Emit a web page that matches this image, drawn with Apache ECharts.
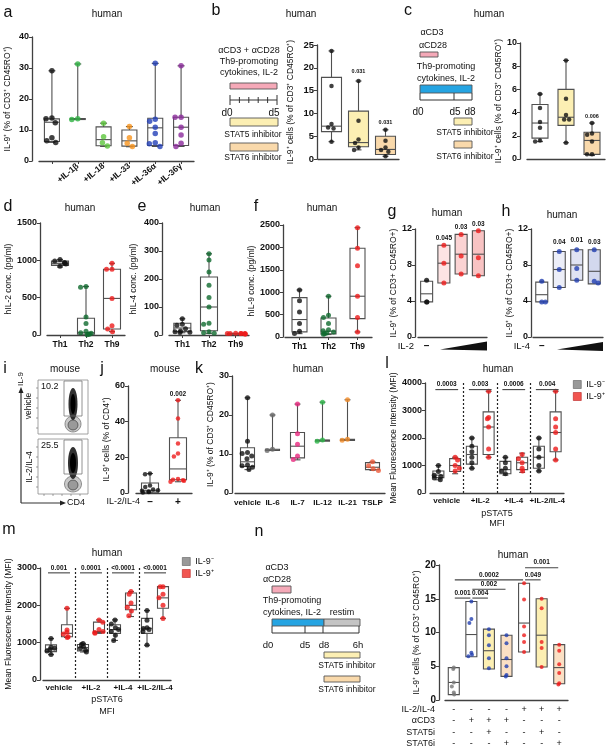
<!DOCTYPE html>
<html><head><meta charset="utf-8"><title>Figure</title>
<script src="https://cdn.jsdelivr.net/npm/echarts@6.0.0/dist/echarts.min.js"></script>
<style>html,body{margin:0;padding:0;background:#fff;}#chart{width:609px;height:750px;}</style>
</head><body><div id="chart"></div>
<script>
// ================= DATA =================
// Panel a
const aCats = ['', '+IL-1β', '+IL-18', '+IL-33', '+IL-36α', '+IL-36γ'];
const aBox = [[6.0,6.3,12.5,13.6,29.1],[13.4,13.4,13.6,13.7,31.3],[4.7,4.9,6.9,11.0,12.2],[4.6,4.8,6.5,10.0,11.1],[4.7,5.0,10.7,13.8,31.5],[4.7,5.0,10.9,14.1,30.7]];
const aPts = [[29.1,13.9,13.6,12.3,7.5,6.5,6.0],[31.3,13.6,13.4],[12.2,7.8,5.9,4.8],[11.1,7.5,5.7,4.7],[31.5,13.5,12.8,10.9,8.9,5.9,5.6,4.7],[30.7,14.1,14.1,10.9,8.4,5.7,4.7]];
// Panel b
const bCats = ['vehicle','STAT5i','STAT6i'];
const bBox = [[3.8,6.0,7.2,17.9,23.7],[2.0,2.7,3.6,10.5,17.1],[0.6,1.0,2.1,5.0,6.4]];
const bPts = [[23.7,16.0,7.7,6.9,6.7,3.8],[17.1,8.4,4.3,3.5,2.5,2.0],[6.4,4.0,2.5,2.0,1.6,0.6]];
const bPvals = [[1,1,19.1,'0.031'],[2,2,8.1,'0.031']];
// Panel c
const cCats = ['vehicle','STAT5i','STAT6i'];
const cBox = [[1.5,1.8,3.1,4.7,5.6],[1.4,2.9,3.6,6.0,8.5],[0.3,0.4,1.6,2.3,3.1]];
const cPts = [[5.6,4.4,3.2,2.7,1.6,1.5],[8.5,5.2,3.8,3.4,3.4,1.4],[3.1,2.2,2.1,1.5,0.4,0.4]];
const cPvals = [[2,2,3.65,'0.006']];
// Panels d, e, f
const thCats = ['Th1','Th2','Th9'];
const dBox = [[910,930,955,990,1010],[5,10,30,225,650],[45,80,490,880,960]];
const dPts = [[1010,990,970,960,950,920],[650,640,240,155,50,30,25,15,10,5],[960,880,880,490,125,80,45]];
const eBox = [[8,12,25,42,58],[6,15,100,207,290],[3,4,5,6,7]];
const ePts = [[58,38,35,22,14,12,10,9],[290,268,225,178,134,100,42,38,12,8,6],[6,5,5,5,4,4,5,5]];
const fBox = [[75,115,390,880,1050],[55,70,130,425,910],[112,410,910,1980,2440]];
const fPts = [[1050,810,560,300,130,80],[910,485,435,300,160,140,110,90,75,60],[2440,1980,1590,910,435,112]];
// Panels g, h
const gCats = ['none','IL-2 low','IL-2 mid','IL-2 high'];
const hCats = ['none','IL-4 low','IL-4 mid','IL-4 high'];
const doseLabels = ['–','','',''];
const gBox = [[3.9,3.9,4.8,6.2,6.3],[6.0,6.0,8.2,10.2,10.2],[7.0,7.0,9.2,11.4,11.4],[6.8,6.8,9.2,11.8,11.8]];
const gPts = [[6.3,3.9,3.9],[10.2,8.2,6.0],[11.4,9.0,7.0],[11.8,8.8,6.8]];
const gPvals = [[1,1,11.0,'0.045'],[2,2,12.25,'0.03'],[3,3,12.55,'0.03']];
const hBox = [[3.9,3.9,4.7,6.1,6.2],[5.5,5.5,7.5,9.5,9.5],[6.3,6.3,8.0,9.7,9.7],[5.9,5.9,7.3,9.7,9.7]];
const hPts = [[6.2,3.9,3.9],[9.5,7.5,5.5],[9.7,7.6,6.3],[9.7,6.2,6.0]];
const hPvals = [[1,1,10.5,'0.04'],[2,2,10.8,'0.01'],[3,3,10.5,'0.03']];
// Panel j
const jCats = ['–','+'];
const jBox = [[0.2,0.5,1.5,5.6,10.9],[6.3,7.4,13.5,31,52]];
const jPts = [[10.9,10.5,4.2,3.3,2.0,1.5,1.2,0.8,0.5,0.3],[52,41.8,27.7,22.1,20.5,7.8,7.5,7.2,6.8,6.3]];
const jPvals = [[1,1,55.5,'0.002']];
// Panel k
const kCats = ['vehicle','IL-6','IL-7','IL-12','IL-21','TSLP'];
const kBox = [[6.0,6.8,8.0,11.6,24.4],[10.8,10.9,11.0,11.2,20.0],[8.5,9.0,12.0,15.5,22.8],[13.2,13.3,13.5,13.6,23.3],[13.4,13.5,13.6,13.8,23.9],[5.8,6.0,6.6,7.8,8.0]];
const kPts = [[24.4,13.3,10.4,10.1,9.5,8.8,7.2,7.0,6.6,6.0],[20.0,11.2,10.9],[22.8,15.2,12.5,9.5,8.6],[23.3,13.6,13.3],[23.9,13.8,13.5],[8.0,7.0,6.2,5.8]];
// Panel l (pSTAT5)
const lGroups = ['vehicle','+IL-2','+IL-4','+IL-2/IL-4'];
const lNegBox = [[480,560,650,800,1000],[900,1050,1400,1700,2000],[650,700,850,1150,1300],[800,900,1300,1700,2000]];
const lPosBox = [[700,780,1000,1250,1300],[1300,1400,2400,2950,3700],[750,850,1100,1300,1450],[1200,1500,2200,2950,3700]];
const lNegPts = [[1000,780,650,600,550,480],[2000,1700,1500,1300,1100,900],[1300,1100,900,800,700],[2000,1600,1300,1000,800]];
const lPosPts = [[1300,1200,1000,900,800],[3700,2750,2700,2400,1600,1300],[1400,1250,1100,900,800],[3700,2700,2400,2200,1600,1200]];
const lPvals = ['0.0003','0.003','0.0006','0.004'];
// Panel m (pSTAT6)
const mGroups = ['vehicle','+IL-2','+IL-4','+IL-2/IL-4'];
const mNegBox = [[680,760,830,940,1110],[750,780,870,950,980],[1060,1250,1350,1480,1610],[930,1250,1385,1650,1860]];
const mPosBox = [[1140,1160,1250,1480,1920],[1250,1270,1300,1550,1610],[1700,1880,2000,2330,2370],[1650,1920,2200,2500,2500]];
const mNegPts = [[1110,880,850,820,780,680],[980,950,900,850,800,750],[1610,1500,1400,1350,1300,1200,1060],[1860,1600,1400,1380,1350,1300,940]];
const mPosPts = [[1920,1340,1280,1230,1160,1140],[1610,1550,1350,1300,1270,1250],[2370,2300,2060,1950,1850,1720],[2500,2500,2300,2200,2000,1650]];
const mPvals = ['0.001','0.0001','<0.0001','<0.0001'];
// Panel n
const nRowNames = ['IL-2/IL-4','αCD3','STAT5i','STAT6i'];
const nRows = [['-','-','-','-','+','+','+'],['-','+','+','+','-','-','-'],['-','-','+','-','-','+','-'],['-','-','-','+','-','-','+']];
const nCats = nRows[0].map((_,i)=>nRows.map(r=>r[i]).join('\n'));
const nBox = [[0.8,0.8,2.6,4.8,4.8],[6.4,6.4,9.7,14.6,14.6],[4.6,4.6,7.3,10.5,10.5],[3.5,3.5,6.0,9.6,9.6],[7.1,7.1,11.4,17.3,17.3],[4.9,4.9,9.6,15.0,15.0],[2.4,2.4,4.8,8.2,8.2]];
const nPts = [[4.8,4.6,2.6,2.0,1.1,0.8],[14.6,12.0,11.4,7.0,6.7,6.5],[10.5,9.6,8.1,6.2,4.7],[9.6,8.4,6.2,5.0,3.7,3.5],[17.3,14.9,10.9,9.6,8.6,7.1],[15.0,13.6,8.6,7.7,4.9],[8.2,7.3,5.3,4.0,2.5,2.3]];
const nSig = [[0,1,15.1,'0.001'],[1,2,15.1,'0.004'],[1,3,16.4,'0.002'],[0,4,17.8,'0.0002'],[4,5,17.8,'0.049'],[4,6,19.6,'0.001']];

// ================= STYLE =================
const FONT = '"Liberation Sans", Arial, Helvetica, sans-serif';
const AX = '#404040', BOXSTROKE = '#505050';
const BLACK='#111111', RED='#ee1c1c', BLUE='#2340b0', DGREEN='#0f6a2e';
const YEL='#fcefb3', PEACH='#f9d9ab', PINK='#f5a9b8', CYAN='#25a4e2';

const opt = {animation:false, backgroundColor:'#fff', textStyle:{fontFamily:FONT},
  grid:[], xAxis:[], yAxis:[], series:[], graphic:[], legend:[]};

function panel(p){
  const gi = opt.grid.length;
  opt.grid.push({left:p.l, top:p.t, width:p.w, height:p.h});
  const xi = opt.xAxis.length;
  const xa = {type:'category', gridIndex:gi, data:p.cats, position:'bottom',
    axisLine:{show:true, lineStyle:{color:AX, width:1.3}},
    axisTick:{show:!!p.xTick, alignWithLabel:true, length:3, lineStyle:{color:AX}},
    axisLabel:{show:!p.noXLabel, interval:0, fontSize:p.xfs||8.5, fontWeight:p.xfw||'bold', color:'#111',
      margin:p.xm||4, rotate:p.rot||0, lineHeight:p.xlh||11, fontFamily:FONT},
    splitLine:{show:false}, jitter:p.jit||12, jitterOverlap:false, jitterMargin:0.5};
  if(p.labels) xa.axisLabel.formatter = (v,i)=>p.labels[i];
  if(p.groups) xa.show = false;
  opt.xAxis.push(xa);
  if(p.groups){
    opt.xAxis.push({type:'category', gridIndex:gi, data:p.groups, position:'bottom',
      axisLine:{show:true, lineStyle:{color:AX,width:1.3}}, axisTick:{show:false},
      axisLabel:{interval:0, fontSize:8, fontWeight:'bold', color:'#111', margin:4, fontFamily:FONT},
      splitLine:{show:true, showMinLine:false, showMaxLine:false, lineStyle:{type:[2,2], color:'#222', width:1.2}},
      name:p.xName, nameLocation:'middle', nameGap:p.xNameGap,
      nameTextStyle:{fontSize:9, color:'#111', lineHeight:p.xNameLH||11, fontFamily:FONT}});
  }
  const yi = opt.yAxis.length;
  opt.yAxis.push({type:'value', gridIndex:gi, min:0, max:p.yMax, interval:p.yInt, offset:p.yOff||0,
    axisLine:{show:true, lineStyle:{color:AX,width:1.3}}, axisTick:{show:true,length:3,lineStyle:{color:AX}},
    splitLine:{show:false},
    axisLabel:{fontSize:p.yfs||9, fontWeight:'bold', color:'#111', margin:3, fontFamily:FONT, formatter:v=>String(v)},
    name:p.yName, nameLocation:'middle', nameGap:p.yGap,
    nameTextStyle:{fontSize:8.5, color:'#111', fontFamily:FONT}});
  return {xi, yi};
}

function boxSeries(xi, yi, list, w, cap){
  return {type:'custom', xAxisIndex:xi, yAxisIndex:yi, z:2, clip:false, silent:true,
    data:list.map(b=>[b.i].concat(b.s)),
    renderItem:(params, api)=>{
      const b = list[params.dataIndex];
      const c = api.value(0);
      const P = k=>api.coord([c, api.value(k)]);
      const pmin=P(1), pq1=P(2), pmed=P(3), pq3=P(4), pmax=P(5);
      const x = pmed[0];
      const st = {stroke:BOXSTROKE, lineWidth:1.1, fill:null};
      const ch = [{type:'line', shape:{x1:x,y1:pmin[1],x2:x,y2:pmax[1]}, style:st}];
      if(cap){
        if(pmax[1] < pq3[1]-0.5) ch.push({type:'line', shape:{x1:x-cap/2,y1:pmax[1],x2:x+cap/2,y2:pmax[1]}, style:st});
        if(pmin[1] > pq1[1]+0.5) ch.push({type:'line', shape:{x1:x-cap/2,y1:pmin[1],x2:x+cap/2,y2:pmin[1]}, style:st});
      }
      ch.push({type:'rect', shape:{x:x-w/2, y:pq3[1], width:w, height:Math.max(pq1[1]-pq3[1],1)},
        style:{fill:b.fill||'#fff', stroke:BOXSTROKE, lineWidth:1.1}});
      ch.push({type:'line', shape:{x1:x-w/2,y1:pmed[1],x2:x+w/2,y2:pmed[1]}, style:st});
      return {type:'group', children:ch};
    }};
}

function ptSeries(xi, yi, pts, size, name){
  return {type:'scatter', name:name, xAxisIndex:xi, yAxisIndex:yi, z:5, symbolSize:size, clip:false,
    data:pts.map(p=>({value:[p.i,p.v], itemStyle:{color:p.c}}))};
}

function annSeries(xi, yi, list, ext, fs){
  return {type:'custom', xAxisIndex:xi, yAxisIndex:yi, z:6, clip:false, silent:true,
    data:list.map(a=>[a[0], a[2]]),
    renderItem:(params, api)=>{
      const a = list[params.dataIndex];
      const p1 = api.coord([a[0], a[2]]), p2 = api.coord([a[1], a[2]]);
      const line = a[0]!==a[1];
      const x1 = p1[0]-(line?ext:0), x2 = p2[0]+(line?ext:0);
      const ch = [];
      if(line) ch.push({type:'line', shape:{x1:x1,y1:p1[1],x2:x2,y2:p1[1]}, style:{stroke:'#444', lineWidth:1.1}});
      ch.push({type:'text', style:{text:a[3], x:(x1+x2)/2, y:line?p1[1]-1.5:p1[1], align:'center',
        verticalAlign:line?'bottom':'middle', font:'bold '+(fs||6.5)+'px '+FONT, fill:'#111'}});
      return {type:'group', children:ch};
    }};
}

function stdPanel(p, box, pts, cols, fills, o){
  const ax = panel(p);
  opt.series.push(boxSeries(ax.xi, ax.yi, box.map((s,i)=>({i:i, s:s, fill:fills?fills[i]:'#fff'})), o.bw, o.cap));
  const P = [];
  pts.forEach((arr,i)=>arr.forEach(v=>P.push({i:i, v:v, c:Array.isArray(cols)?cols[i]:cols})));
  opt.series.push(ptSeries(ax.xi, ax.yi, P, o.ps));
  if(o.ann) opt.series.push(annSeries(ax.xi, ax.yi, o.ann, o.ext||0, o.afs));
  return ax;
}

function pairedPanel(p, negBox, posBox, negPts, posPts, pv, o){
  const ax = panel(p);
  const boxes = [];
  negBox.forEach((s,g)=>boxes.push({i:2*g, s:s, fill:'#fff'}));
  posBox.forEach((s,g)=>boxes.push({i:2*g+1, s:s, fill:'#fff'}));
  opt.series.push(boxSeries(ax.xi, ax.yi, boxes, o.bw, o.cap));
  const N=[], Q=[];
  negPts.forEach((a,g)=>a.forEach(v=>N.push({i:2*g, v:v, c:BLACK})));
  posPts.forEach((a,g)=>a.forEach(v=>Q.push({i:2*g+1, v:v, c:RED})));
  opt.series.push(ptSeries(ax.xi, ax.yi, N, o.ps, 'IL-9⁻'));
  opt.series.push(ptSeries(ax.xi, ax.yi, Q, o.ps, 'IL-9⁺'));
  opt.series.push(annSeries(ax.xi, ax.yi, pv.map((t,g)=>[2*g, 2*g+1, o.sigY, t]), o.ext, 6.5));
  return ax;
}

// ================= PANELS =================
const yPct = 'IL-9⁺ (% of CD3⁺ CD45RO⁺)';
const yCells = 'IL-9⁺ cells (% of CD3⁺ CD45RO⁺)';
const yMFI = 'Mean Fluorescence Intensity (MFI)';

stdPanel({l:39,t:37,w:155,h:124,yOff:7,cats:aCats,rot:40,xTick:true,yMax:40,yInt:10,yName:yPct,yGap:20,jit:13},
  aBox, aPts, ['#111111','#2fb344','#5cc63c','#f7941d','#2340b8','#8b2a9b'], null, {bw:15, cap:7, ps:5.5});

stdPanel({l:318,t:45,w:81,h:114,yOff:1,cats:bCats,noXLabel:true,yMax:25,yInt:5,yName:yCells,yGap:22,yfs:9.5,jit:13},
  bBox, bPts, BLACK, ['#fff',YEL,PEACH], {bw:20, cap:6, ps:4.5, ann:bPvals, afs:5.5});

stdPanel({l:527,t:43,w:78,h:116,yOff:7,cats:cCats,noXLabel:true,yMax:10,yInt:2,yName:yCells,yGap:12,jit:12},
  cBox, cPts, BLACK, ['#fff',YEL,PEACH], {bw:16, cap:6, ps:4.5, ann:cPvals, afs:5.5});

stdPanel({l:47,t:223,w:78,h:112,yOff:7,cats:thCats,xTick:true,yMax:1500,yInt:500,yName:'hIL-2 conc. (pg/ml)',yGap:27,jit:16},
  dBox, dPts, [BLACK,DGREEN,RED], ['#c4c4c4','#fff','#fff'], {bw:17, cap:6, ps:5});

stdPanel({l:169,t:223,w:80,h:112,yOff:7,cats:thCats,xTick:true,yMax:400,yInt:100,yName:'hIL-4 conc. (pg/ml)',yGap:24,jit:20},
  eBox, ePts, [BLACK,DGREEN,RED], null, {bw:17, cap:6, ps:5});

stdPanel({l:285,t:225,w:87,h:112,yOff:2,cats:thCats,xTick:true,yMax:2500,yInt:500,yName:'hIL-9 conc. (pg/ml)',yGap:25,jit:14},
  fBox, fPts, [BLACK,DGREEN,RED], null, {bw:15, cap:6, ps:5});

stdPanel({l:418,t:229,w:69,h:108,yOff:3,cats:gCats,labels:doseLabels,xfs:10,yMax:12,yInt:4,yName:'IL-9⁺ (% of CD3+ CD45RO+)',yGap:15,jit:10},
  gBox, gPts, [BLACK,RED,RED,RED], ['#fff','#fde4e4','#fbd3d3','#f8c3c3'], {bw:12, cap:5, ps:5, ann:gPvals});

stdPanel({l:533,t:229,w:70,h:108,yOff:2,cats:hCats,labels:doseLabels,xfs:10,yMax:12,yInt:4,yName:'IL-9⁺ (% of CD3+ CD45RO+)',yGap:16,jit:10},
  hBox, hPts, [BLUE,BLUE,BLUE,BLUE], ['#fff','#eceef8','#e0e3f3','#d3d8ee'], {bw:12, cap:5, ps:5, ann:hPvals});

stdPanel({l:136,t:386,w:56,h:107,yOff:8,cats:jCats,xfs:10,yMax:60,yInt:20,yName:'IL-9⁺ cells (% of CD4⁺)',yGap:13,jit:18},
  jBox, jPts, [BLACK,RED], null, {bw:17, cap:6, ps:4.5, ann:jPvals});

stdPanel({l:235,t:376,w:150,h:117,yOff:3,cats:kCats,xTick:false,xfs:8,yMax:30,yInt:10,yName:yPct,yGap:17,jit:14},
  kBox, kPts, ['#111111','#6b6b6b','#e8287e','#2eb84a','#f28c28','#ee5a3a'], null, {bw:14, cap:6, ps:5});

pairedPanel({l:430,t:383,w:134,h:110,yOff:5,cats:lGroups.flatMap(g=>[g+' IL-9⁻', g+' IL-9⁺']),groups:lGroups,
  xName:'pSTAT5\nMFI',xNameGap:15,xNameLH:10.5,yMax:4000,yInt:1000,yName:yMFI,yGap:25,jit:9},
  lNegBox, lPosBox, lNegPts, lPosPts, lPvals, {bw:11, cap:6, ps:5, sigY:3760, ext:3});

pairedPanel({l:43,t:568,w:128,h:112,yOff:3,cats:mGroups.flatMap(g=>[g+' IL-9⁻', g+' IL-9⁺']),groups:mGroups,
  xName:'pSTAT6\nMFI',xNameGap:14,xNameLH:12,yMax:3000,yInt:1000,yName:yMFI,yGap:27,jit:9},
  mNegBox, mPosBox, mNegPts, mPosPts, mPvals, {bw:11, cap:6, ps:5, sigY:2870, ext:3});

stdPanel({l:445,t:565,w:123,h:135,yOff:6,cats:nCats,xfs:9,xfw:'normal',xlh:11.3,xm:4,yMax:20,yInt:5,yName:yCells,yGap:17,yfs:10,jit:8},
  nBox, nPts, ['#777777',BLUE,BLUE,BLUE,RED,RED,RED], ['#fff','#fff',YEL,'#fbe0c4','#fff',YEL,'#fbe0c4'],
  {bw:11, cap:0, ps:4, ann:nSig, ext:-1, afs:6.5});

// legends for l and m
const legItems = [{name:'IL-9⁻', itemStyle:{color:'#7f7f7f', borderColor:'#444', borderWidth:0.6}},
                  {name:'IL-9⁺', itemStyle:{color:'#ee2b24', borderColor:'#a00', borderWidth:0.6}}];
opt.legend.push({left:568, top:375, orient:'vertical', icon:'rect', itemWidth:8, itemHeight:8, itemGap:3, selectedMode:false,
  textStyle:{fontSize:9, color:'#111', fontFamily:FONT}, data:legItems});
opt.legend.push({left:177, top:552, orient:'vertical', icon:'rect', itemWidth:8, itemHeight:8, itemGap:3, selectedMode:false,
  textStyle:{fontSize:9, color:'#111', fontFamily:FONT}, data:legItems});

// ================= GRAPHICS (labels & schematics) =================
const G = opt.graphic;
function T(x,y,s,fs,o){ o=o||{}; G.push({type:'text', x:x, y:y, rotation:o.rot||0, silent:true, z:10,
  style:{text:s, fill:o.fill||'#111', font:(o.w||'normal')+' '+fs+'px '+FONT, align:o.align||'center', verticalAlign:o.va||'middle'}}); }
function R(x,y,w,h,fill,stroke,lw){ G.push({type:'rect', silent:true, z:10, shape:{x:x,y:y,width:w,height:h},
  style:{fill:fill||'none', stroke:stroke||'#444', lineWidth:lw||0.9}}); }
function L(x1,y1,x2,y2,w,c){ G.push({type:'line', silent:true, z:10, shape:{x1:x1,y1:y1,x2:x2,y2:y2}, style:{stroke:c||'#333', lineWidth:w||1}}); }
function PG(pts,fill){ G.push({type:'polygon', silent:true, z:10, shape:{points:pts}, style:{fill:fill}}); }
function E(cx,cy,rx,ry,fill,stroke,op){ G.push({type:'ellipse', silent:true, z:10, shape:{cx:cx,cy:cy,rx:rx,ry:ry},
  style:{fill:fill||'none', stroke:stroke||'none', lineWidth:0.7, opacity:op==null?1:op}}); }
const UP = Math.PI/2;

// panel letters & titles
[['a',8,13],['b',216,11],['c',408,11],['d',8,207],['e',142,207],['f',256,207],['g',392,212],['h',506,212],
 ['i',5,369],['j',102,369],['k',199,369],['l',387,364],['m',9,530],['n',259,532]].forEach(a=>T(a[1],a[2],a[0],16));
[['human',107,14],['human',301,14],['human',489,14],['human',80,208],['human',205,208],['human',322,208],
 ['human',447,213],['human',562,215],['mouse',65,369],['mouse',165,369],['human',308,369],['human',498,369],
 ['human',107,553],['human',513,555]].forEach(a=>T(a[1],a[2],a[0],10));

// panel b schematic
T(249,51,'αCD3 + αCD28',9); T(249,62,'Th9-promoting',9); T(249,73,'cytokines, IL-2',9);
R(230,83,47,6,PINK,'#555');
L(230,100,277,100,1);
for(let k=0;k<6;k++){ const x=230+k*9.4; const big=(k===0||k===5); L(x,big?95:97,x,big?105:103,1); }
T(227,113,'d0',10); T(274,113,'d5',10);
R(230,118,48,8,YEL,'#555'); T(253,135,'STAT5 inhibitor',8.5);
R(230,143,48,8,PEACH,'#555'); T(253,158,'STAT6 inhibitor',8.5);

// panel c schematic
T(432,33,'αCD3',9); T(433,46,'αCD28',9);
R(420,52,18,5,PINK,'#555');
T(446,67,'Th9-promoting',9); T(446,79,'cytokines, IL-2',9);
R(420,85,52,8,CYAN,'#555');
L(420,100,472,100,1); L(420,93,420,100,1); L(454,93,454,100,1); L(472,93,472,100,1);
T(418,112,'d0',10); T(455,112,'d5',10); T(470,112,'d8',10);
R(454,118,18,7,YEL,'#555'); T(465,133,'STAT5 inhibitor',8.5);
R(454,141,18,7,PEACH,'#555'); T(465,157,'STAT6 inhibitor',8.5);

// panels g, h dose wedges
T(414,346,'IL-2',9.5,{align:'right'}); PG([[440,349.5],[487,341.5],[487,350.5]],'#111');
T(530,346,'IL-4',9.5,{align:'right'}); PG([[557,349.5],[603,342],[603,351]],'#111');

// panel j x-title
T(140,502,'IL-2/IL-4',9,{align:'right'});

// panel i flow plots (illustration)
L(21,393,21,503,1.2); L(21,503,60,503,1.2);
PG([[60,500.5],[66,503],[60,505.5]],'#222'); T(67,503,'CD4',9,{align:'left'});
PG([[18.5,393],[21,387],[23.5,393]],'#222'); T(21,379,'IL-9',8,{rot:UP});
T(29,406,'vehicle',8.5,{rot:UP}); T(30,467,'IL-2/IL-4',8.5,{rot:UP});
R(38,380,50,54,'none','#8a8a8a',0.8); R(38,439,50,55,'none','#8a8a8a',0.8);
for(let k=0;k<5;k++){ L(38,388+k*10,36,388+k*10,0.6,'#666'); L(38,447+k*10,36,447+k*10,0.6,'#666');
  L(44+k*9,494,44+k*9,496,0.6,'#666'); }
E(73,424,8,8,'#c9c9c9','#666'); E(73,425,5,5,'#9a9a9a','#444'); E(73,404,4.5,16,'#1b1b1b',null,0.9); E(73,404,2.5,10,'#000');
E(73,484,8.5,8,'#c9c9c9','#666'); E(73,485,5,5,'#9a9a9a','#444'); E(73,463,5,16,'#1b1b1b',null,0.9); E(73,463,3,10,'#000');
R(64,381,18,35,'none','#777',0.8); R(64,440,18,34,'none','#777',0.8);
T(41,387,'10.2',9,{align:'left'}); T(41,446,'25.5',9,{align:'left'});

// panel n schematic
T(277,568,'αCD3',9); T(277,580,'αCD28',9);
R(272,586,19,7,PINK,'#555');
T(292,601,'Th9-promoting',9); T(292,613,'cytokines, IL-2',9); T(342,613,'restim',9);
R(272,619,52,7,CYAN,'#555'); R(324,619,36,7,'#c4c4c4','#555');
L(272,633,359,633,1); [272,305,323,359].forEach(x=>L(x,626,x,633,1));
T(268,645,'d0',9.5); T(305,645,'d5',9.5); T(324,645,'d8',9.5); T(358,645,'6h',9.5);
R(324,652,36,6,YEL,'#555'); T(347,666,'STAT5 inhibitor',8.5);
R(324,676,36,6,PEACH,'#555'); T(347,690,'STAT6 inhibitor',8.5);
// panel n table row titles
nRowNames.forEach((s,k)=>T(435, 704+11.3*(k+0.5), s, 9, {align:'right'}));

const chart = echarts.init(document.getElementById('chart'), null, {renderer:'canvas', width:609, height:750});
chart.setOption(opt);
</script></body></html>
